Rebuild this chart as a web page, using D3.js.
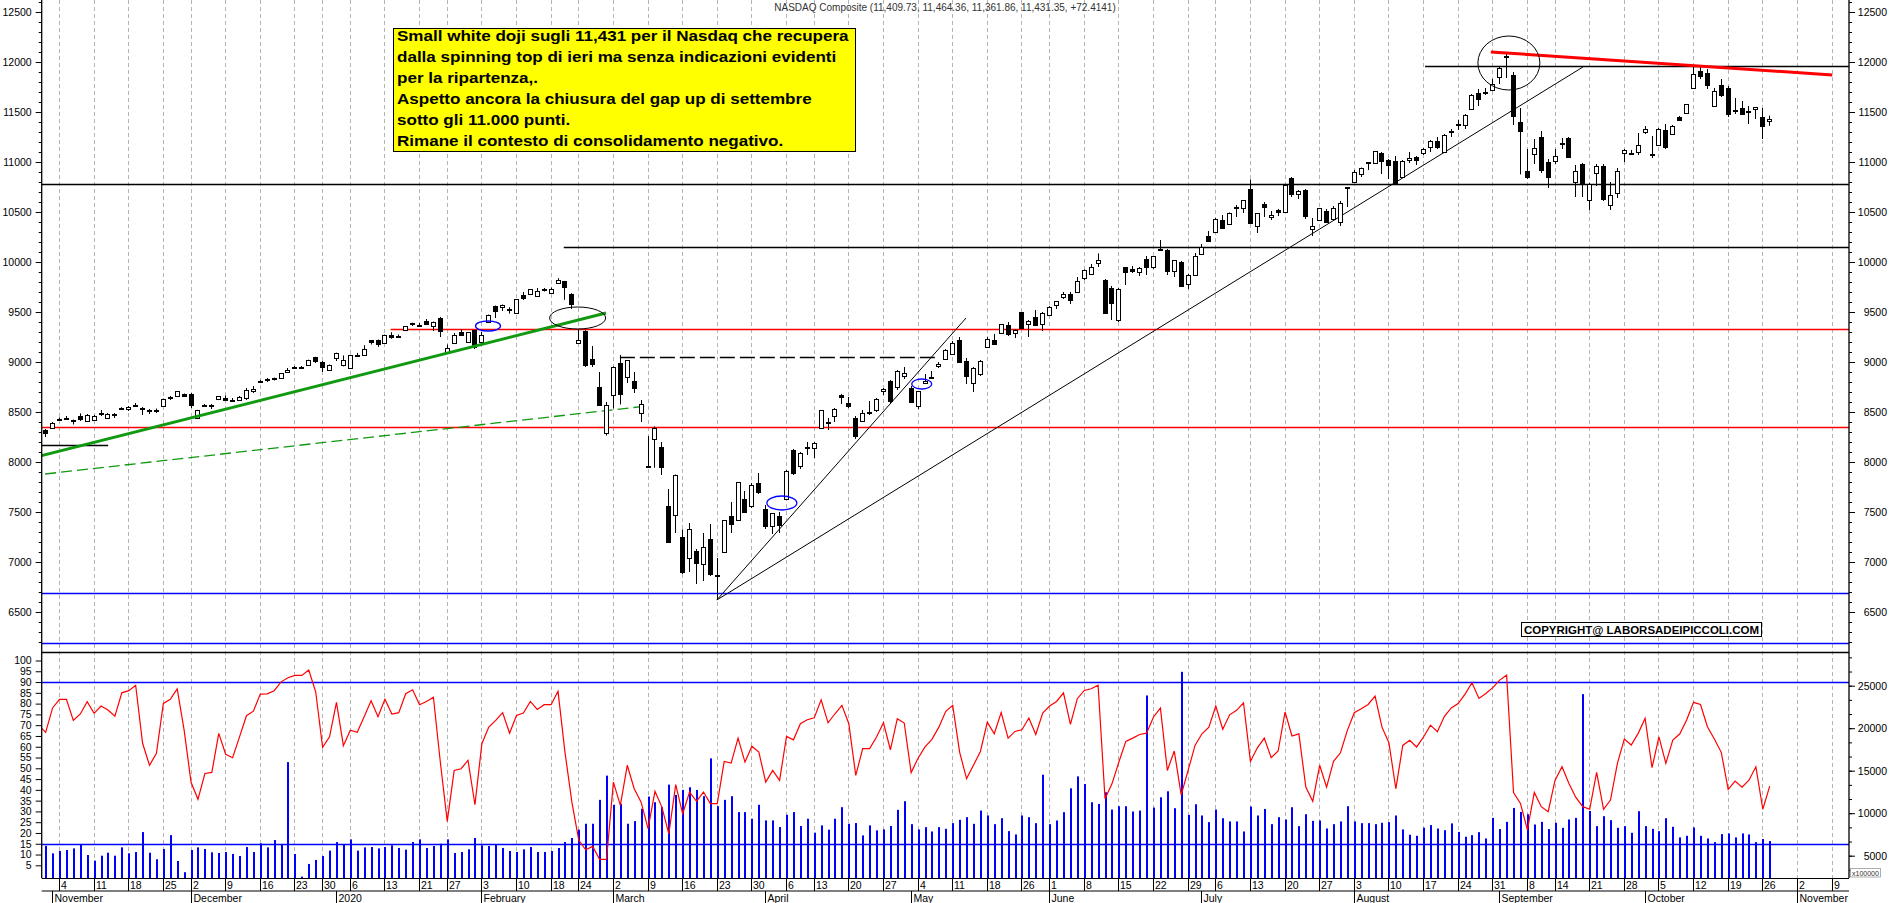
<!DOCTYPE html>
<html><head><meta charset="utf-8">
<script src="https://cdn.jsdelivr.net/npm/d3@7"></script>
<style>
html,body{margin:0;padding:0;background:#fff;overflow:hidden;}
svg{display:block;}
text{font-family:"Liberation Sans",Arial,sans-serif;}
</style></head><body>
<svg id="c" width="1890" height="903"></svg>
<script>
// ---------- DATA ----------
const tradingDays = [
 ["2019-10",[30,31]],
 ["2019-11",[1,4,5,6,7,8,11,12,13,14,15,18,19,20,21,22,25,26,27,29]],
 ["2019-12",[2,3,4,5,6,9,10,11,12,13,16,17,18,19,20,23,24,26,27,30,31]],
 ["2020-01",[2,3,6,7,8,9,10,13,14,15,16,17,21,22,23,24,27,28,29,30,31]],
 ["2020-02",[3,4,5,6,7,10,11,12,13,14,18,19,20,21,24,25,26,27,28]],
 ["2020-03",[2,3,4,5,6,9,10,11,12,13,16,17,18,19,20,23,24,25,26,27,30,31]],
 ["2020-04",[1,2,3,6,7,8,9,13,14,15,16,17,20,21,22,23,24,27,28,29,30]],
 ["2020-05",[1,4,5,6,7,8,11,12,13,14,15,18,19,20,21,22,26,27,28,29]],
 ["2020-06",[1,2,3,4,5,8,9,10,11,12,15,16,17,18,19,22,23,24,25,26,29,30]],
 ["2020-07",[1,2,6,7,8,9,10,13,14,15,16,17,20,21,22,23,24,27,28,29,30,31]],
 ["2020-08",[3,4,5,6,7,10,11,12,13,14,17,18,19,20,21,24,25,26,27,28,31]],
 ["2020-09",[1,2,3,4,8,9,10,11,14,15,16,17,18,21,22,23,24,25,28,29,30]],
 ["2020-10",[1,2,5,6,7,8,9,12,13,14,15,16,19,20,21,22,23,26,27]]
];
const futureDays = [["2020-10",[28,29,30]],["2020-11",[2,3,4,5,6,9,10]]];
const monthNames = ["2020","February","March","April","May","June","July","August","September","October","November","December"];

// [open, high, low, close]
const ohlc = [
[8280,8310,8250,8303],[8320,8330,8250,8292],[8345,8400,8340,8386],[8432,8445,8420,8433],[8445,8460,8420,8435],
[8420,8425,8375,8411],[8460,8486,8410,8434],[8410,8480,8400,8475],[8425,8470,8420,8464],[8495,8520,8460,8486],
[8445,8490,8440,8482],[8465,8490,8440,8479],[8545,8548,8520,8540],[8530,8560,8510,8550],[8575,8590,8550,8571],
[8545,8550,8470,8527],[8520,8530,8480,8506],[8525,8535,8490,8520],[8560,8635,8555,8632],[8650,8660,8620,8648],
[8665,8710,8660,8705],[8680,8685,8655,8665],[8680,8690,8540,8568],[8445,8522,8435,8521],[8575,8580,8550,8567],
[8565,8580,8530,8571],[8630,8660,8620,8657],[8640,8665,8615,8622],[8612,8640,8600,8616],[8625,8660,8610,8654],
[8640,8740,8620,8717],[8710,8760,8690,8735],[8815,8820,8800,8814],[8830,8840,8800,8823],[8840,8845,8815,8828],
[8840,8890,8835,8887],[8905,8940,8890,8925],[8950,8960,8930,8946],[8950,8960,8940,8953],[8965,9023,8960,9022],
[9050,9052,8990,9007],[9005,9010,8900,8946],[8918,8975,8910,8973],[9039,9093,9010,9092],[8970,9066,8956,9021],
[8943,9072,8943,9071],[9071,9091,9060,9069],[9069,9168,9060,9129],[9218,9220,9175,9203],[9220,9225,9151,9179],
[9193,9274,9190,9274],[9270,9298,9232,9251],[9265,9275,9240,9259],[9320,9357,9310,9357],[9390,9393,9360,9389],
[9372,9390,9350,9371],[9410,9430,9380,9384],[9362,9405,9310,9402],[9440,9451,9250,9315],[9092,9175,9088,9139],
[9190,9290,9180,9270],[9300,9330,9260,9275],[9200,9300,9190,9299],[9320,9320,9130,9151],[9200,9300,9195,9273],
[9400,9475,9390,9468],[9560,9565,9440,9509],[9550,9575,9510,9572],[9535,9548,9485,9521],[9494,9630,9490,9628],
[9670,9700,9620,9639],[9682,9726,9682,9726],[9660,9740,9650,9712],[9728,9740,9705,9731],[9690,9745,9680,9733],
[9790,9838,9787,9817],[9810,9811,9622,9751],[9683,9688,9531,9577],[9195,9330,9180,9221],[9314,9318,8950,8966],
[9030,9160,8950,8981],[8750,8900,8560,8566],[8290,8600,8264,8567],[8667,8956,8536,8952],[8990,9071,8575,8684],
[8846,9020,8790,9018],[8810,8900,8690,8739],[8490,8620,8400,8576],[7960,8260,7940,7951],[8230,8355,7943,8344],
[8150,8200,7870,7952],[7560,7730,7195,7202],[7475,7875,7290,7875],[7250,7325,6880,6905],[7040,7390,6900,7335],
[7110,7130,6780,6990],[6980,7290,6810,7151],[7230,7380,6860,6880],[6870,7040,6631,6861],[7100,7420,7090,7418],
[7460,7600,7290,7384],[7420,7800,7410,7798],[7630,7710,7490,7502],[7560,7790,7540,7774],[7790,7890,7680,7700],
[7530,7570,7330,7361],[7360,7490,7280,7487],[7460,7500,7290,7373],[7630,7920,7620,7913],[8120,8130,7870,7887],
[7960,8100,7930,8091],[8140,8200,8070,8154],[8140,8200,8040,8192],[8340,8520,8330,8516],[8400,8440,8320,8393],
[8460,8540,8400,8532],[8670,8680,8580,8650],[8590,8650,8540,8561],[8440,8460,8230,8263],[8410,8520,8400,8495],
[8500,8610,8470,8495],[8520,8640,8500,8635],[8710,8740,8670,8730],[8810,8820,8590,8608],[8750,8920,8720,8915],
[8860,8950,8830,8890],[8740,8760,8600,8605],[8560,8710,8530,8711],[8790,8880,8790,8809],[8850,8910,8830,8854],
[8960,9000,8940,8980],[9030,9130,9020,9121],[9080,9210,9070,9192],[9220,9250,9000,9003],[9010,9040,8780,8863],
[8790,8950,8700,8944],[8880,9020,8860,9015],[9150,9250,9140,9235],[9220,9280,9180,9185],[9290,9380,9280,9376],
[9370,9400,9260,9285],[9290,9330,9240,9325],[9500,9500,9330,9340],[9380,9420,9250,9412],[9450,9520,9360,9369],
[9380,9500,9310,9490],[9470,9560,9460,9552],[9570,9610,9530,9608],[9650,9700,9630,9683],[9680,9700,9580,9616],
[9700,9850,9690,9814],[9840,9925,9820,9925],[9880,9980,9870,9954],[9990,10086,9950,10020],[9820,9830,9490,9493],
[9740,9760,9420,9589],[9420,9740,9400,9726],[9950,9950,9770,9896],[9930,9960,9890,9911],[9900,9950,9860,9943],
[10030,10060,9870,9946],[9950,10060,9930,10056],[10130,10220,10110,10131],[10120,10130,9870,9909],[9910,10020,9850,10017],
[10000,10010,9750,9757],[9780,9880,9730,9874],[9870,10090,9860,10059],[10080,10180,10070,10155],[10260,10310,10200,10208],
[10300,10440,10290,10434],[10420,10470,10340,10344],[10380,10495,10370,10493],[10540,10570,10450,10548],[10540,10620,10490,10617],
[10730,10825,10390,10391],[10360,10490,10290,10489],[10580,10600,10450,10550],[10450,10510,10420,10474],[10520,10530,10460,10503],
[10500,10770,10500,10767],[10840,10850,10650,10680],[10680,10720,10630,10706],[10720,10730,10430,10461],[10330,10440,10260,10363],
[10420,10540,10410,10536],[10510,10530,10400,10402],[10430,10560,10420,10543],[10400,10610,10360,10588],[10750,10750,10550,10745],
[10800,10920,10790,10903],[10880,10945,10850,10941],[10990,11000,10920,10998],[10990,11110,10980,11108],[11090,11100,10880,11011],
[11020,11030,10830,10968],[11010,11060,10780,10783],[10850,11020,10840,11012],[11020,11100,10990,11042],[11050,11060,10970,11019],
[11090,11140,11070,11130],[11150,11220,11100,11211],[11210,11250,11130,11146],[11100,11280,11090,11265],[11300,11330,11250,11312],
[11380,11420,11320,11380],[11370,11480,11330,11466],[11530,11680,11520,11665],[11690,11730,11560,11625],[11700,11740,11670,11696],
[11720,11830,11710,11775],[11850,11950,11780,11940],[12045,12090,11840,12056],[11870,11900,11370,11458],[11400,11540,10876,11313],
[10910,11130,10830,10848],[11080,11230,10980,11142],[11245,11310,10890,10920],[11000,11030,10740,10854],[11010,11130,10980,11057],
[11185,11240,11130,11190],[11240,11250,11040,11050],[10800,10970,10650,10910],[10980,10990,10650,10793],[10620,10790,10520,10779],
[10890,10980,10760,10964],[10960,10980,10610,10633],[10570,10800,10520,10672],[10690,10940,10640,10914],[11090,11130,11000,11118],
[11090,11120,11080,11085],[11100,11290,11070,11168],[11300,11360,11280,11327],[11080,11260,11040,11075],[11170,11340,11160,11332],
[11320,11380,11130,11155],[11280,11370,11270,11365],[11450,11460,11410,11421],[11490,11580,11480,11580],[11740,11950,11730,11876],
[11910,11950,11830,11864],[11893,11930,11730,11769],[11565,11740,11560,11714],[11770,11830,11650,11672],[11740,11760,11450,11479],
[11520,11640,11480,11516],[11540,11610,11470,11485],[11510,11560,11380,11506],[11530,11550,11430,11548],[11450,11540,11230,11359],
[11410,11464,11362,11431]
];

const volume = [
6000,6170,5280,
5550,5670,5860,6330,5080,4420,5000,5350,5000,5980,5280,5430,7780,5350,4580,5790,7420,4380,3060,
5670,5980,5790,5400,5320,5430,5200,4960,6020,5430,6450,5980,6840,6370,16010,5200,2540,4030,4500,4960,5590,
6600,6290,6920,5590,5980,6020,5860,6020,
6220,5910,5710,6610,6920,5910,6140,6410,6920,5320,5440,5750,7080,6220,6140,6340,5910,5550,5440,5750,
6020,5440,5440,5550,5910,6610,7080,8060,8760,8760,11570,14420,10990,11100,8760,9070,10520,11960,11290,10710,
13360,12150,12740,13050,12740,12000,16450,10830,11570,12000,10130,10130,9350,10990,9150,9150,8370,9820,10130,8490,
9350,7710,8570,8060,9350,10710,8760,8840,7390,8570,7980,8100,8490,10400,11410,
8710,8090,8360,7850,8360,8160,8830,9220,9530,8750,10310,9730,8710,9410,7890,7500,9730,9530,8830,14530,
8710,9140,10120,12930,14330,13430,11290,11090,12460,10430,10820,10820,10200,10310,23850,10660,11870,12580,10590,26630,
9800,11050,9730,8950,10430,9410,9030,9030,7850,10780,9730,10500,8710,9530,9260,10700,8480,9880,9100,9140,
8200,8710,9030,10820,9030,8830,8830,8710,8870,8950,9730,8090,7460,7340,
8300,8600,8200,8000,8800,7800,
7230,7420,7770,7030,9450,8130,8980,10620,10150,9880,8670,8980,8130,8870,8280,9260,9450,24010,10270,8480,
9650,9180,8280,8480,7690,10230,8480,8160,7890,9410,8400,7150,7340,8320,7340,7030,6600,7540,7620,7150,
7620,7500,6600,6960,6720
];

const oscillator = [
70,66.7,78,
82,82,72.2,75.2,80.9,75.5,78.9,77,74.2,85,86,88.5,61.6,51.4,56.9,80.1,82,86.8,67.7,
43.5,35.6,47.6,48.1,66.2,56.5,54.9,64.6,74.4,76.5,84.4,84.5,86,90.1,92,93.1,93.1,95.6,85.5,59.7,64.6,
80.6,60.5,67.7,66.7,73.9,81.3,73.9,82,75.2,75.8,
84.6,86.4,79.5,81,83,52.9,25.4,49,49.8,53.7,33.1,61.4,69.1,72.2,75.8,66.3,74.5,75.6,81,77.3,
79.5,79.5,85.7,57.5,34.3,16.6,12.2,13.8,7.8,7.8,43.6,32.8,51.4,40.5,34.3,22,39.3,32,19.6,42.4,
28.9,39,34.7,39,33.6,33.6,53.2,52.4,64,52.9,60.2,57.5,43.6,49,44.4,64.8,63.2,70.7,72.5,73.4,
81.8,71.1,75.3,79.2,70.7,46.7,59.1,59.1,64.5,71.1,58.6,73,71,
48,54.7,59.9,63.4,69.1,76.4,79.2,57.5,45.2,51.4,57.8,71.4,66,75.8,64,67.1,67.9,73.3,65.7,75.6,
78.9,81,85,70.4,82.3,86.1,86.9,88.5,35.9,42.8,52.9,62.5,64,65.7,66.3,73.8,77.9,49,58,37.7,
49,60.6,66,69.1,78.9,68.1,74.8,76.9,80.4,53.2,59.5,64,54.9,58,76.1,65,66,41.3,34.7,51.4,
41.3,53.2,57.2,67.6,75.8,77.6,79.6,83.5,69.1,61.9,40.5,60.6,63,59.9,
64.5,70,67,74,78,80,
84.4,89.7,82.4,84.7,87.4,90.9,93.2,38.8,33.7,21.4,38.8,32.2,29.9,44.5,50.7,43,36.5,32.2,31,48.1,
31,35.3,52.3,63.6,60.8,66.2,73.2,50.3,64.6,52.3,63.1,65.9,72.4,80.6,79.6,69.3,63.6,57.4,40.2,44.1,
41.2,44.5,50.7,31,41.7
];

// horizontal price levels (value, from index, to index)
const levels = [
 {v:9330, k0:50.9, k1:null, c:"#ff0000"},
 {v:8350, k0:null, k1:null, c:"#ff0000"},
 {v:6690, k0:null, k1:null, c:"#0000ff"},
 {v:6190, k0:null, k1:null, c:"#0000ff"},
 {v:11960, k0:200.3, k1:null, c:"#000000"},
 {v:10780, k0:null, k1:null, c:"#000000"},
 {v:10150, k0:75.9, k1:null, c:"#000000"},
 {v:8170, k0:null, k1:10.1, c:"#000000"}
];
const dashedLevel = {v:9050, k0:84.0, k1:129.7};
// trend lines: [k0, v0, k1, v1]
const greenTrend = [0.3, 8060, 82.0, 9490];
const greenDashed = [1.0, 7880, 87.9, 8560];
const blackTrends = [[98.0, 6620, 223.1, 11950],[98.0, 6620, 134.0, 9440]];
const redTrend = [209.8, 12100, 259.1, 11870];
// circles: [k, value, rx, ry]
const blackCircles = [[212.4, 11990, 31, 27],[77.9, 9440, 28, 11]];
const blueCircles = [[64.96, 9360, 12.5, 5],[107.4, 7590, 15, 7],[127.6, 8780, 10, 5]];
const oscLevels = [90, 15];
const title = "NASDAQ Composite (11,409.73, 11,464.36, 11,361.86, 11,431.35, +72.4141)";
const noteLines = [
 "Small white doji sugli 11,431 per il Nasdaq che recupera",
 "dalla spinning top di ieri ma senza indicazioni evidenti",
 "per la ripartenza,.",
 "Aspetto ancora la chiusura del gap up di settembre",
 "sotto gli 11.000 punti.",
 "Rimane il contesto di consolidamento negativo."
];
const copyright = "COPYRIGHT@ LABORSADEIPICCOLI.COM";

// ---------- BUILD ----------
function expand(list){
  const out=[];
  list.forEach(([ym,days])=>{const [y,m]=ym.split("-").map(Number);days.forEach(d=>out.push(new Date(Date.UTC(y,m-1,d))));});
  return out;
}
const dates = expand(tradingDays);
const allDates = dates.concat(expand(futureDays));

const W=1890,H=903;
const L=41.7, R=1849, SEP=652, BOT=878;
const xs = d3.scaleLinear().domain([0,260]).range([38.23, 38.23+6.924*260]);
const yP = d3.scaleLinear().domain([6100,12620]).range([SEP,0]);
const yO = d3.scaleLinear().domain([0,100]).range([876.1,660.5]);
const yV = d3.scaleLinear().domain([0,25000]).range([898.2,685.7]);

const svg = d3.select("#c");
const defs = svg.append("defs");
defs.append("clipPath").attr("id","clipTop").append("rect").attr("x",L).attr("y",0).attr("width",R-L).attr("height",SEP);
defs.append("clipPath").attr("id","clipBot").append("rect").attr("x",L).attr("y",SEP).attr("width",R-L).attr("height",BOT-SEP);

svg.append("rect").attr("width",W).attr("height",H).attr("fill","#fff");

// week and month ticks
const weekTicks=[], monthTicks=[];
allDates.forEach((d,i)=>{
  const p = allDates[i-1];
  if(!p || d.getUTCDay()<=p.getUTCDay() || (d-p)>6*864e5) weekTicks.push(i);
  if(!p || d.getUTCMonth()!==p.getUTCMonth()) monthTicks.push(i);
});
const px = k => Math.round(xs(k))+0.5;

// grid
const gridG = svg.append("g");
weekTicks.filter(k=>xs(k)>L+1 && xs(k)<R).forEach(k=>{
  gridG.append("line").attr("x1",px(k)).attr("x2",px(k)).attr("y1",0).attr("y2",BOT)
    .attr("stroke","#b4b4b4").attr("stroke-width",1).attr("stroke-dasharray","4,3");
});

// ---------- TOP PANEL ----------
const topG = svg.append("g").attr("clip-path","url(#clipTop)");
levels.forEach(l=>{
  const x0 = l.k0==null? L : xs(l.k0), x1 = l.k1==null? R : xs(l.k1);
  const y = Math.round(yP(l.v))+0.5;
  topG.append("line").attr("x1",x0).attr("x2",x1).attr("y1",y).attr("y2",y).attr("stroke",l.c).attr("stroke-width",1.3);
});
{
  const y = Math.round(yP(dashedLevel.v))+0.5;
  topG.append("line").attr("x1",xs(dashedLevel.k0)).attr("x2",xs(dashedLevel.k1)).attr("y1",y).attr("y2",y)
   .attr("stroke","#000").attr("stroke-width",1.3).attr("stroke-dasharray","15,5");
}
const seg = (g,a,col,w,dash)=>{
  const l=g.append("line").attr("x1",xs(a[0])).attr("y1",yP(a[1])).attr("x2",xs(a[2])).attr("y2",yP(a[3]))
   .attr("stroke",col).attr("stroke-width",w);
  if(dash) l.attr("stroke-dasharray",dash);
};
seg(topG,greenDashed,"#119911",1.3,"11,5");
blackTrends.forEach(t=>seg(topG,t,"#000",1,null));

// candles
const cg = topG.append("g");
ohlc.forEach((c,k)=>{
  const [o,h,l,cl]=c;
  const x = Math.round(xs(k));
  cg.append("line").attr("x1",x+0.5).attr("x2",x+0.5).attr("y1",yP(h)).attr("y2",yP(l)).attr("stroke","#000").attr("stroke-width",1);
  const yt = Math.round(yP(Math.max(o,cl))), yb = Math.round(yP(Math.min(o,cl)));
  cg.append("rect").attr("x",x-2+0.5).attr("y",yt+0.5).attr("width",4).attr("height",Math.max(yb-yt,1))
    .attr("fill", cl>=o? "#fff":"#000").attr("stroke","#000").attr("stroke-width",1);
});
seg(topG,greenTrend,"#119911",3,null);
seg(topG,redTrend,"#ff0000",3,null);
blackCircles.forEach(c=>topG.append("ellipse").attr("cx",xs(c[0])).attr("cy",yP(c[1])).attr("rx",c[2]).attr("ry",c[3]).attr("fill","none").attr("stroke","#000").attr("stroke-width",1));
blueCircles.forEach(c=>topG.append("ellipse").attr("cx",xs(c[0])).attr("cy",yP(c[1])).attr("rx",c[2]).attr("ry",c[3]).attr("fill","none").attr("stroke","#0000ff").attr("stroke-width",1.3));

// ---------- BOTTOM PANEL ----------
const botG = svg.append("g").attr("clip-path","url(#clipBot)");
volume.forEach((v,k)=>{
  const x=Math.round(xs(k));
  botG.append("rect").attr("x",x).attr("y",yV(v)).attr("width",2).attr("height",Math.max(0,BOT-yV(v))).attr("fill","#0000ff");
});
oscLevels.forEach(v=>{
  const y=Math.round(yO(v))+0.5;
  botG.append("line").attr("x1",L).attr("x2",R).attr("y1",y).attr("y2",y).attr("stroke","#0000ff").attr("stroke-width",1.3);
});
botG.append("path").datum(oscillator).attr("fill","none").attr("stroke","#ff0000").attr("stroke-width",1.2)
  .attr("d",d3.line().x((d,k)=>xs(k)+0.5).y(d=>yO(d)));

// ---------- FRAME / AXES ----------
const fr = svg.append("g").attr("stroke","#000");
fr.append("line").attr("x1",L).attr("x2",L).attr("y1",0).attr("y2",BOT).attr("stroke-width",1.3);
fr.append("line").attr("x1",R).attr("x2",R).attr("y1",0).attr("y2",BOT).attr("stroke-width",1.3);
fr.append("line").attr("x1",L).attr("x2",R).attr("y1",SEP+0.5).attr("y2",SEP+0.5).attr("stroke-width",1.5);
fr.append("line").attr("x1",L).attr("x2",R).attr("y1",BOT+0.5).attr("y2",BOT+0.5).attr("stroke-width",1.2);
fr.append("line").attr("x1",L).attr("x2",R).attr("y1",891).attr("y2",891).attr("stroke-width",1.2);

function styleAxis(g){ g.select(".domain").remove(); g.selectAll("line").attr("stroke","#000"); g.selectAll("text").attr("font-size","10.5px").attr("fill","#000").style("font-family","'Liberation Sans',Arial,sans-serif"); }
const priceMinor = d3.range(6200,12601,100), priceMajor = d3.range(6500,12501,500);
svg.append("g").attr("transform",`translate(${L},0)`).call(d3.axisLeft(yP).tickValues(priceMinor).tickSize(3).tickFormat("")).call(styleAxis);
svg.append("g").attr("transform",`translate(${L},0)`).call(d3.axisLeft(yP).tickValues(priceMajor).tickSize(6).tickPadding(4).tickFormat(d3.format("d"))).call(styleAxis);
svg.append("g").attr("transform",`translate(${R},0)`).call(d3.axisRight(yP).tickValues(priceMinor).tickSize(3).tickFormat("")).call(styleAxis);
const ra = svg.append("g").attr("transform",`translate(${R},0)`).call(d3.axisRight(yP).tickValues(priceMajor).tickSize(6).tickFormat(d3.format("d"))).call(styleAxis);
ra.selectAll("text").attr("text-anchor","end").attr("x",38);

svg.append("g").attr("transform",`translate(${L},0)`).call(d3.axisLeft(yO).tickValues(d3.range(5,101,5)).tickSize(6).tickPadding(4)).call(styleAxis);
const volMinor = d3.range(0,28400,5000/3).filter(v=>yV(v)<BOT && yV(v)>SEP+2);
svg.append("g").attr("transform",`translate(${R},0)`).call(d3.axisRight(yV).tickValues(volMinor).tickSize(3).tickFormat("")).call(styleAxis);
const rv = svg.append("g").attr("transform",`translate(${R},0)`).call(d3.axisRight(yV).tickValues([5000,10000,15000,20000,25000]).tickSize(6).tickFormat(d3.format("d"))).call(styleAxis);
rv.selectAll("text").attr("text-anchor","end").attr("x",38);
svg.append("rect").attr("x",1850.5).attr("y",868.5).attr("width",30).attr("height",8.5).attr("fill","#fff").attr("stroke","#999").attr("stroke-width",0.8);
svg.append("text").attr("x",1852).attr("y",875.5).attr("font-size","7px").attr("fill","#333").text("x100000");

// x axis
const xa = svg.append("g");
weekTicks.filter(k=>xs(k)>L+1 && xs(k)<R).forEach(k=>{
  xa.append("line").attr("x1",px(k)).attr("x2",px(k)).attr("y1",BOT).attr("y2",891).attr("stroke","#000").attr("stroke-width",1);
  xa.append("text").attr("x",px(k)+1.5).attr("y",888.5).attr("font-size","10.5px").attr("fill","#000").text(allDates[k].getUTCDate());
});
monthTicks.filter(k=>xs(k)>L+1 && xs(k)<R).forEach(k=>{
  xa.append("line").attr("x1",px(k)).attr("x2",px(k)).attr("y1",891).attr("y2",H).attr("stroke","#000").attr("stroke-width",1);
  const m = allDates[k].getUTCMonth();
  xa.append("text").attr("x",px(k)+2).attr("y",902).attr("font-size","10.5px").attr("fill","#000").text(monthNames[m]);
});

// title
svg.append("text").attr("x",945).attr("y",11).attr("text-anchor","middle").attr("font-size","10px").attr("fill","#333").text(title);

// note box
svg.append("rect").attr("x",393.5).attr("y",28.5).attr("width",462).attr("height",123).attr("fill","#ffff00").attr("stroke","#000").attr("stroke-width",1);
const ng = svg.append("g");
const nts = noteLines.map((t,i)=>ng.append("text").attr("x",0).attr("y",40.7+21.1*i).attr("font-size","14.5px").attr("font-weight","bold").attr("fill","#000").text(t));
const len0 = nts[0].node().getComputedTextLength();
ng.attr("transform",`translate(397,0) scale(${452/len0},1)`);

// copyright
svg.append("rect").attr("x",1521.5).attr("y",622.5).attr("width",240).attr("height",14).attr("fill","#fff").attr("stroke","#000").attr("stroke-width",1);
svg.append("text").attr("x",1524).attr("y",634).attr("font-size","11.5px").attr("font-weight","bold").attr("fill","#000")
  .attr("textLength",235).attr("lengthAdjust","spacingAndGlyphs").text(copyright);
</script>
</body></html>
